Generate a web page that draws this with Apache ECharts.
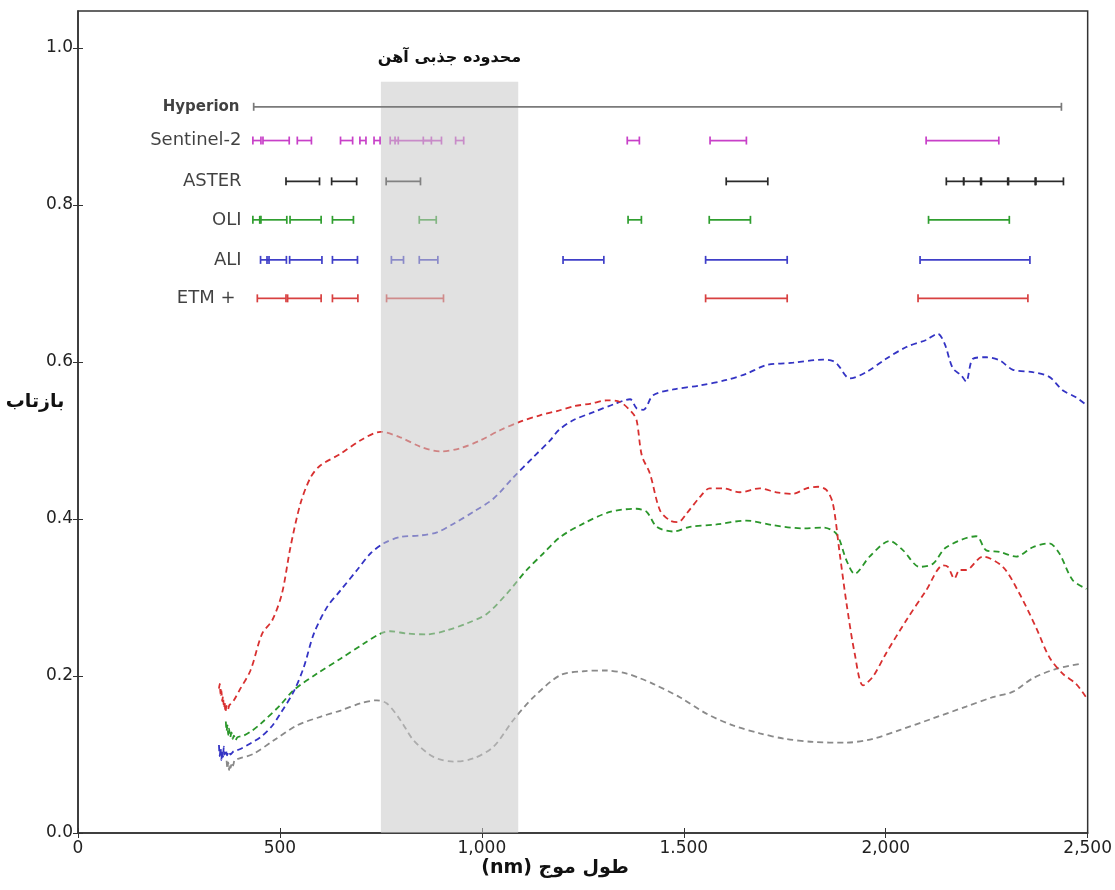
<!DOCTYPE html>
<html><head><meta charset="utf-8">
<script src="https://cdn.jsdelivr.net/npm/echarts@6/dist/echarts.min.js"></script>
<style>html,body{margin:0;padding:0;background:#fff}#c{width:1115px;height:890px}</style>
</head><body><div id="c"></div>
<script>
// ---- tick labels ----
const xTicks = [0, 500, 1000, 1500, 2000, 2500];
const xTickLabels = ['0', '500', '1,000', '1.500', '2,000', '2,500'];
const yTicks = [0, 0.2, 0.4, 0.6, 0.8, 1.0];
const yTickLabels = ['0.0', '0.2', '0.4', '0.6', '0.8', '1.0'];

// ---- texts ----
const xTitle = 'طول موج (nm)';
const yTitle = 'بازتاب';
const ironTitle = 'محدوده جذبی آهن';

// ---- iron absorption range [start nm, end nm, top reflectance] ----
const ironBand = [750, 1090, 0.957];

// ---- spectra [wavelength nm, reflectance] ----
const redSpectrum = [[349,0.184],[351,0.19],[353,0.176],[355,0.182],[357,0.168],[359,0.174],[361,0.162],[363,0.166],[365,0.154],[368,0.162],[371,0.157],[375,0.163],[380,0.165],[386,0.169],[400,0.182],[427,0.207],[456,0.254],[481,0.271],[505,0.305],[526,0.364],[551,0.42],[576,0.453],[600,0.468],[650,0.483],[699,0.50],[749,0.511],[798,0.504],[848,0.492],[897,0.486],[946,0.49],[996,0.50],[1045,0.513],[1095,0.524],[1144,0.532],[1190,0.538],[1227,0.5435],[1270,0.547],[1309,0.551],[1342,0.549],[1371,0.536],[1383,0.526],[1396,0.481],[1416,0.458],[1441,0.411],[1466,0.398],[1486,0.396],[1507,0.407],[1540,0.428],[1564,0.439],[1597,0.439],[1639,0.434],[1688,0.439],[1729,0.434],[1770,0.432],[1804,0.439],[1833,0.441],[1853,0.437],[1869,0.42],[1886,0.356],[1903,0.292],[1923,0.229],[1944,0.188],[1968,0.199],[2001,0.229],[2051,0.271],[2100,0.309],[2142,0.341],[2154,0.339],[2170,0.324],[2183,0.335],[2199,0.335],[2240,0.352],[2290,0.339],[2331,0.305],[2372,0.262],[2405,0.224],[2438,0.203],[2471,0.19],[2496,0.173]];
const blueSpectrum = [[349,0.112],[351,0.098],[353,0.108],[355,0.093],[357,0.104],[359,0.097],[361,0.11],[363,0.1],[366,0.106],[369,0.099],[373,0.104],[378,0.1],[385,0.104],[402,0.107],[430,0.115],[452,0.122],[480,0.136],[501,0.152],[534,0.18],[559,0.211],[584,0.254],[617,0.288],[650,0.309],[691,0.335],[724,0.356],[757,0.369],[798,0.377],[848,0.379],[889,0.383],[930,0.394],[979,0.409],[1029,0.426],[1078,0.453],[1128,0.479],[1169,0.50],[1190,0.513],[1227,0.526],[1276,0.536],[1326,0.546],[1367,0.5525],[1383,0.541],[1400,0.539],[1424,0.5576],[1474,0.565],[1540,0.570],[1606,0.577],[1655,0.585],[1705,0.596],[1771,0.599],[1845,0.603],[1870,0.601],[1882,0.596],[1911,0.579],[1952,0.587],[2001,0.604],[2051,0.619],[2100,0.628],[2129,0.636],[2146,0.623],[2166,0.592],[2187,0.583],[2199,0.575],[2216,0.604],[2249,0.606],[2282,0.602],[2315,0.59],[2364,0.587],[2405,0.581],[2438,0.564],[2471,0.555],[2497,0.545]];
const greenSpectrum = [[366,0.142],[368,0.13],[370,0.137],[372,0.125],[374,0.133],[377,0.122],[380,0.128],[383,0.12],[386,0.124],[390,0.118],[395,0.122],[410,0.124],[430,0.13],[452,0.139],[501,0.163],[534,0.182],[592,0.203],[650,0.222],[707,0.241],[749,0.254],[773,0.257],[815,0.254],[864,0.253],[913,0.258],[963,0.267],[1012,0.279],[1062,0.305],[1111,0.335],[1152,0.356],[1194,0.377],[1251,0.394],[1317,0.409],[1383,0.413],[1408,0.409],[1433,0.39],[1474,0.384],[1515,0.39],[1581,0.393],[1655,0.398],[1721,0.392],[1796,0.388],[1845,0.389],[1878,0.381],[1903,0.347],[1923,0.33],[1960,0.352],[2010,0.372],[2043,0.36],[2084,0.339],[2117,0.343],[2150,0.364],[2224,0.378],[2249,0.36],[2282,0.358],[2323,0.352],[2364,0.364],[2405,0.369],[2430,0.356],[2463,0.322],[2497,0.311]];
const graySpectrum = [[368,0.092],[370,0.082],[372,0.09],[374,0.08],[376,0.088],[378,0.083],[381,0.09],[384,0.086],[388,0.093],[400,0.095],[435,0.101],[485,0.118],[542,0.137],[600,0.148],[650,0.156],[699,0.165],[740,0.169],[765,0.165],[798,0.144],[831,0.118],[880,0.097],[930,0.091],[979,0.095],[1029,0.11],[1078,0.144],[1128,0.173],[1194,0.201],[1251,0.206],[1309,0.207],[1359,0.203],[1392,0.197],[1424,0.19],[1490,0.173],[1556,0.152],[1622,0.137],[1688,0.127],[1750,0.12],[1820,0.116],[1900,0.115],[1968,0.12],[2034,0.131],[2117,0.146],[2199,0.161],[2265,0.173],[2315,0.18],[2364,0.197],[2422,0.209],[2488,0.216]];

// ---- sensor band ranges [start nm, end nm] ----
const sensorNames = ['Hyperion', 'Sentinel-2', 'ASTER', 'OLI', 'ALI', 'ETM +'];
const sensorRows = [0.925, 0.882, 0.83, 0.781, 0.73, 0.681];
const sensorLabelX = [400, 405, 405, 405, 405, 390];
const hyperionBands = [[435, 2435]];
const sentinelBands = [[433,453],[458,523],[543,578],[650,680],[698,713],[733,748],[773,793],[785,900],[855,875],[935,955],[1360,1390],[1565,1655],[2100,2280]];
const asterBands = [[515,598],[628,690],[763,848],[1605,1708],[2150,2193],[2193,2235],[2237,2302],[2304,2370],[2372,2440]];
const oliBands = [[433,453],[450,517],[525,602],[630,682],[845,887],[1362,1395],[1563,1665],[2106,2306]];
const aliBands = [[452,473],[468,516],[524,604],[630,692],[776,806],[845,891],[1201,1302],[1554,1756],[2085,2357]];
const etmBands = [[444,515],[519,602],[630,693],[764,905],[1554,1756],[2080,2352]];

const FONT = '"DejaVu Sans", "Noto Sans", sans-serif';
const RTL = s => '\u202B' + s + '\u202C';

function sensorRender(color) {
  return function (params, api) {
    const y = api.value(2);
    const a = api.coord([api.value(0), y]);
    const b = api.coord([api.value(1), y]);
    const h = 4;
    const st = { stroke: color, lineWidth: 1.7 };
    return { type: 'group', children: [
      { type: 'line', shape: { x1: a[0], y1: a[1], x2: b[0], y2: b[1] }, style: st },
      { type: 'line', shape: { x1: a[0], y1: a[1] - h, x2: a[0], y2: a[1] + h }, style: st },
      { type: 'line', shape: { x1: b[0], y1: b[1] - h, x2: b[0], y2: b[1] + h }, style: st }
    ]};
  };
}
function sensorSeries(bands, row, color, z) {
  return { type: 'custom', silent: true, z: z, xAxisIndex: 0, yAxisIndex: 0,
    renderItem: sensorRender(color), encode: { x: [0, 1], y: 2 },
    data: bands.map(b => [b[0], b[1], sensorRows[row]]) };
}
function spectrum(data, color) {
  return { type: 'line', data: data, showSymbol: false, smooth: 0.3, silent: true, z: 2,
    lineStyle: { color: color, width: 1.8, type: [6, 4] } };
}
const tickStyle = { show: true, inside: true, length: 5, lineStyle: { color: '#333', width: 1 } };

const chart = echarts.init(document.getElementById('c'));
chart.setOption({
  animation: false,
  backgroundColor: '#fff',
  grid: { left: 78, right: 27, top: 11, bottom: 57, show: true, borderColor: '#333', borderWidth: 1.5 },
  xAxis: [{
    type: 'value', min: 0, max: 2500, interval: 500,
    axisLine: { show: true, lineStyle: { color: '#333', width: 1.5 } },
    axisTick: tickStyle,
    splitLine: { show: false },
    axisLabel: { color: '#222', fontSize: 17, fontFamily: FONT, margin: 7,
      formatter: v => xTickLabels[xTicks.indexOf(v)] }
  }, {
    type: 'value', position: 'top', min: 0, max: 2500, interval: 500,
    axisLine: { show: false }, axisLabel: { show: false }, splitLine: { show: false },
    axisTick: tickStyle
  }],
  yAxis: [{
    type: 'value', min: 0, max: 1.047,
    axisLine: { show: true, lineStyle: { color: '#333', width: 1.5 } },
    axisTick: Object.assign({ customValues: yTicks }, tickStyle),
    splitLine: { show: false },
    axisLabel: { color: '#222', fontSize: 17, fontFamily: FONT, margin: 5, customValues: yTicks,
      formatter: v => yTickLabels[Math.round(v / 0.2)] }
  }, {
    type: 'value', position: 'right', min: 0, max: 1.047,
    axisLine: { show: false }, axisLabel: { show: false }, splitLine: { show: false },
    axisTick: Object.assign({ customValues: yTicks }, tickStyle)
  }],
  graphic: [
    { type: 'text', x: 555, y: 868, style: { text: RTL(xTitle), font: 'bold 19px ' + FONT, fill: '#111', align: 'center', verticalAlign: 'middle' } },
    { type: 'text', x: 35, y: 402, style: { text: RTL(yTitle), font: 'bold 19px ' + FONT, fill: '#111', align: 'center', verticalAlign: 'middle' } }
  ],
  series: [
    spectrum(graySpectrum, '#8a8a8a'),
    spectrum(greenSpectrum, '#2a962a'),
    spectrum(blueSpectrum, '#3434c4'),
    spectrum(redSpectrum, '#d83030'),
    sensorSeries(sentinelBands, 1, '#c840c8', 3),
    sensorSeries(asterBands, 2, '#2a2a2a', 3),
    sensorSeries(oliBands, 3, '#2f9e2f', 3),
    sensorSeries(aliBands, 4, '#3f3fc8', 3),
    sensorSeries(etmBands, 5, '#d84040', 3),
    {
      type: 'custom', silent: true, z: 5, encode: { x: [0, 1], y: 2 },
      data: [ironBand],
      renderItem: function (params, api) {
        const p0 = api.coord([api.value(0), 0]);
        const p1 = api.coord([api.value(1), api.value(2)]);
        return { type: 'group', children: [
          { type: 'rect', shape: { x: p0[0], y: p1[1], width: p1[0] - p0[0], height: p0[1] - p1[1] },
            style: { fill: 'rgba(200,200,200,0.55)' } },
          { type: 'text', x: (p0[0] + p1[0]) / 2, y: p1[1] - 24,
            style: { text: RTL(ironTitle), font: 'bold 16px ' + FONT, fill: '#111', align: 'center', verticalAlign: 'middle' } }
        ]};
      }
    },
    sensorSeries(hyperionBands, 0, '#7a7a7a', 6),
    {
      type: 'scatter', silent: true, z: 7, symbolSize: 0,
      data: sensorNames.map((n, i) => ({
        value: [sensorLabelX[i], sensorRows[i]], name: n,
        label: { show: true, position: 'left', distance: 0, formatter: n, color: '#111',
          fontFamily: FONT, fontSize: i === 0 ? 15 : 18, fontWeight: i === 0 ? 'bold' : 'normal' }
      }))
    }
  ]
});
</script>
</body></html>
